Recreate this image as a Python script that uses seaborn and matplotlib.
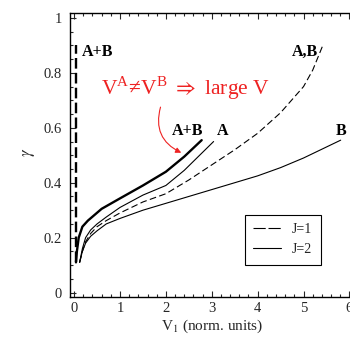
import matplotlib
matplotlib.use("Agg")
import matplotlib.pyplot as plt
from matplotlib.lines import Line2D
from matplotlib.ticker import MultipleLocator
import seaborn as sns

# ---- data ----
ab_j1_v = [0.03, 0.03]
ab_j1_g = [0.11, 0.90]

ab_j2_v = [0.04, 0.06, 0.10, 0.18, 0.30, 0.60, 1.00, 1.50, 2.00, 2.40, 2.78]
ab_j2_g = [0.11, 0.15, 0.20, 0.24, 0.262, 0.305, 0.343, 0.39, 0.44, 0.495, 0.555]

a_j2_v = [0.12, 0.18, 0.25, 0.36, 0.50, 0.70, 1.00, 1.50, 2.00, 2.40, 3.04]
a_j2_g = [0.11, 0.16, 0.20, 0.228, 0.25, 0.275, 0.31, 0.355, 0.39, 0.445, 0.55]

abs_j1_v = [0.12, 0.18, 0.25, 0.36, 0.50, 0.70, 1.00, 1.50, 2.00, 2.50, 3.00, 3.50, 4.00, 4.50, 5.00, 5.20, 5.42]
abs_j1_g = [0.11, 0.15, 0.185, 0.215, 0.24, 0.262, 0.29, 0.33, 0.36, 0.41, 0.465, 0.52, 0.58, 0.655, 0.75, 0.81, 0.90]

b_j2_v = [0.12, 0.18, 0.25, 0.36, 0.50, 0.70, 1.00, 1.50, 2.00, 3.00, 4.00, 4.50, 5.00, 5.81]
b_j2_g = [0.11, 0.15, 0.18, 0.205, 0.225, 0.25, 0.27, 0.30, 0.325, 0.375, 0.425, 0.455, 0.49, 0.555]

x_ticks = [0, 1, 2, 3, 4, 5, 6]
y_ticks = [0, 0.2, 0.4, 0.6, 0.8, 1]
y_tick_labels = ["0", "0.2", "0.4", "0.6", "0.8", "1"]

sns.set_style("ticks")
plt.rcParams["font.family"] = ["Liberation Serif", "DejaVu Serif"]
plt.rcParams["mathtext.fontset"] = "stix"

fig = plt.figure(figsize=(3.5, 3.37), dpi=100)
ax = fig.add_axes([70 / 350, 1 - 296.7 / 337, 284 / 350, (296.7 - 13) / 337])

thick = 1.7
thin = 0.8
sns.lineplot(x=ab_j1_v, y=ab_j1_g, ax=ax, color="black", linewidth=thick,
             sort=False, estimator=None, linestyle=(0, (4.5, 1.8)))
sns.lineplot(x=ab_j2_v, y=ab_j2_g, ax=ax, color="black", linewidth=thick,
             sort=False, estimator=None)
sns.lineplot(x=a_j2_v, y=a_j2_g, ax=ax, color="black", linewidth=thin,
             sort=False, estimator=None)
sns.lineplot(x=abs_j1_v, y=abs_j1_g, ax=ax, color="black", linewidth=thin,
             sort=False, estimator=None, linestyle=(0, (6, 3)))
sns.lineplot(x=b_j2_v, y=b_j2_g, ax=ax, color="black", linewidth=thin,
             sort=False, estimator=None)

ax.set_xlim(-0.09, 6.1)
ax.set_ylim(-0.015, 1.018)
ax.set_xticks(x_ticks)
ax.set_yticks(y_ticks)
ax.set_yticklabels(y_tick_labels)
ax.xaxis.set_minor_locator(MultipleLocator(0.2))
ax.yaxis.set_minor_locator(MultipleLocator(0.05))
ax.tick_params(which="both", direction="in", top=True, right=False, labelsize=10.5, width=0.8)
ax.tick_params(axis="y", pad=6)
ax.tick_params(which="major", length=4)
ax.tick_params(which="minor", length=2)
for s in ax.spines.values():
    s.set_linewidth(1.0)
    s.set_color("black")

ax.set_xlabel(r"V$_1$ (norm. units)", fontsize=11, labelpad=2)
ax.set_ylabel(r"$\gamma$", fontsize=12)
ax.yaxis.set_label_coords(-0.116, 0.51)

bold = dict(fontsize=11.5, fontweight="bold", color="black")
ax.text(0.17, 0.875, "A+B", ha="left", va="center", **bold)
ax.text(2.48, 0.59, "A+B", ha="center", va="center", **bold)
ax.text(3.23, 0.59, "A", ha="center", va="center", **bold)
ax.text(5.04, 0.876, "A,B", ha="center", va="center", **bold)
ax.text(5.81, 0.59, "B", ha="center", va="center", **bold)

red = "#ee2222"
ax.text(0.58, 0.745,
        "V$^{\\mathregular{A}}$\u2260V$^{\\mathregular{B}}$ $\\Rightarrow$ large V",
        ha="left", va="center", color=red, fontsize=15.5)
ax.annotate("", xy=(2.39, 0.505), xytext=(1.9, 0.685),
            arrowprops=dict(arrowstyle="-|>", color=red, lw=0.8,
                            connectionstyle="arc3,rad=0.45", mutation_scale=8))

handles = [Line2D([], [], color="black", lw=thin, linestyle=(0, (11, 2.5))),
           Line2D([], [], color="black", lw=thin)]
leg = ax.legend(handles, ["J=1", "J=2"], loc="upper left",
                bbox_to_anchor=((245 - 70) / 284, 1 - (215 - 13) / 283.7),
                borderaxespad=0,
                fancybox=False, edgecolor="black", framealpha=1,
                fontsize=10, handlelength=2.0, borderpad=0.6, labelspacing=0.5,
                handletextpad=0.8)
leg.get_frame().set_linewidth(0.8)

fig.savefig("out.png", dpi=100)
